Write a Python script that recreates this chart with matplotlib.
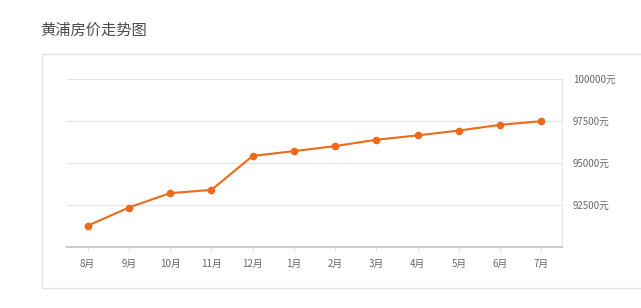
import matplotlib
matplotlib.use("Agg")
import matplotlib.pyplot as plt
from matplotlib.patches import Rectangle

plt.rcParams['font.family'] = ['Noto Sans CJK SC', 'DejaVu Sans']

months = ["8月", "9月", "10月", "11月", "12月", "1月", "2月", "3月", "4月", "5月", "6月", "7月"]
prices = [91250, 92340, 93200, 93390, 95420, 95710, 96010, 96390, 96650, 96940, 97280, 97500]
y_ticks = [92500, 95000, 97500, 100000]
y_labels = ["92500元", "95000元", "97500元", "100000元"]

W, H = 641, 308
fig = plt.figure(figsize=(W / 100, H / 100), dpi=100)

# panel box behind the chart
panel = Rectangle((41.5 / W, 20 / H), 1.0, 234 / H, transform=fig.transFigure,
                  facecolor="white", edgecolor="#e3e3e3", linewidth=1.0, zorder=-1)
fig.patches.append(panel)

fig.text(40 / W, 1 - 30 / H, "黄浦房价走势图", fontsize=11, color="#4d4d4d",
         va="center", ha="left")

ax = fig.add_axes([67 / W, 61.3 / H, 495 / W, 167.4 / H])
ax.set_zorder(2)
ax.set_facecolor("none")
x = range(len(months))
ax.plot(x, prices, color="#ec6a1a", linewidth=1.5, marker="o", markersize=4.5,
        markerfacecolor="#ec6a1a", markeredgecolor="#ec6a1a", zorder=3)

ax.set_xlim(-0.5, len(months) - 0.5)
ax.set_ylim(90000, 100000)
ax.set_xticks(list(x))
ax.set_xticklabels(months)
ax.set_yticks(y_ticks)
ax.set_yticklabels(y_labels)
ax.yaxis.tick_right()
ax.grid(axis="y", color="#e6e6e6", linewidth=0.9)
ax.set_axisbelow(True)

for side in ["left", "top"]:
    ax.spines[side].set_visible(False)
ax.spines["right"].set_color("#e8e8e8")
ax.spines["right"].set_linewidth(0.9)
ax.spines["bottom"].set_color("#cccccc")
ax.spines["bottom"].set_linewidth(1.5)

ax.tick_params(axis="x", length=3, color="#e0e0e0", labelsize=7, labelcolor="#666666", pad=6)
ax.tick_params(axis="y", length=0, labelsize=7, labelcolor="#666666", pad=8)

fig.savefig("out.png", dpi=100)
